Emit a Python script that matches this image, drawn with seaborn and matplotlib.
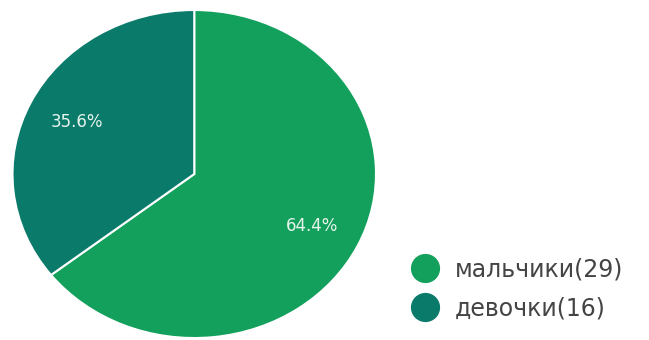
import matplotlib
matplotlib.use("Agg")
import matplotlib.pyplot as plt
from matplotlib.lines import Line2D
import seaborn as sns

# data
labels = ["мальчики", "девочки"]
counts = [29, 16]
colors = ["#13a05c", "#0a7a6b"]

sns.set_theme(style="white")
plt.rcParams['font.family'] = ['DejaVu Sans']

fig = plt.figure(figsize=(6.49, 3.40), dpi=100)
# pie is drawn slightly wider than tall and cut off at the bottom edge
ax = fig.add_axes([12.5 / 649, 0, 363.5 / 649, 1])

wedges, texts, autotexts = ax.pie(
    counts,
    colors=colors,
    startangle=90,
    counterclock=False,
    autopct='%.1f%%',
    pctdistance=0.72,
    wedgeprops=dict(edgecolor='white', linewidth=1.5),
    textprops=dict(color='#e6f4ec', fontsize=12),
)
ax.set_aspect('auto')
ax.set_xlim(-1, 1)
ax.set_ylim(-1.012, 1.061)
ax.axis('off')

handles = [Line2D([0], [0], marker='o', linestyle='none', markersize=20,
                  markerfacecolor=c, markeredgecolor=c) for c in colors]
leg_labels = [f"{l}({n})" for l, n in zip(labels, counts)]
fig.legend(handles, leg_labels, loc='center left',
           bbox_to_anchor=(411 / 649, 1 - 289 / 340),
           frameon=False, fontsize=17, labelcolor='#444444',
           handlelength=1.2, handletextpad=0.65, labelspacing=0.62,
           borderpad=0, borderaxespad=0)

fig.savefig('out.png', dpi=100)
